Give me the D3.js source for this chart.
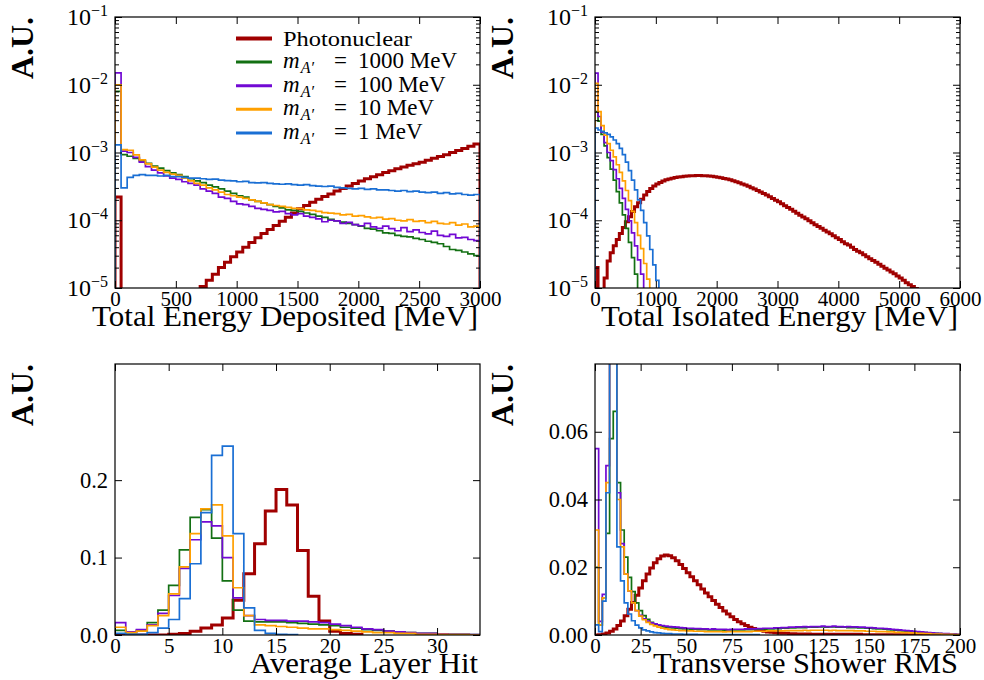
<!DOCTYPE html>
<html>
<head>
<meta charset="utf-8">
<script src="https://cdn.jsdelivr.net/npm/d3@7"></script>
<style>
  body { margin: 0; background: #fff; }
  text { font-family: "Liberation Serif", "Times New Roman", serif; fill: #000; }
</style>
</head>
<body>
<script>
// series: Photonuclear, m_A' = 1000, 100, 10, 1 MeV
var names = ["Photonuclear", "1000", "100", "10", "1"];
var colors = ["#a00000", "#137013", "#7209d4", "#ffa000", "#1a6fd4"];

// ---- Total Energy Deposited [MeV], 50 MeV bins, 0..3000
var edepBin = 50;
var edepPN = [2.2e-4, 0, 0, 0, 0, 0, 0, 0, 0, 0, 0, 0, 0, 0,
  1.05e-5, 1.3e-5, 1.6e-5, 2.0e-5, 2.4e-5, 2.9e-5,
  3.4e-5, 4.0e-5, 4.7e-5, 5.5e-5, 6.4e-5, 7.3e-5, 8.4e-5, 9.7e-5, 1.11e-4, 1.28e-4,
  1.48e-4, 1.65e-4, 1.84e-4, 2.05e-4, 2.25e-4, 2.45e-4, 2.7e-4, 2.95e-4, 3.2e-4, 3.5e-4,
  3.8e-4, 4.1e-4, 4.4e-4, 4.7e-4, 5.05e-4, 5.4e-4, 5.75e-4, 6.1e-4, 6.5e-4, 6.85e-4,
  7.2e-4, 7.7e-4, 8.2e-4, 8.7e-4, 9.3e-4, 1.0e-3, 1.07e-3, 1.15e-3, 1.24e-3, 1.34e-3];
var edep1000 = [8e-3, 9.3e-4, 8.8e-4, 8.2e-4, 7.5e-4, 6.9e-4, 6.3e-4, 5.9e-4, 5.4e-4, 5.0e-4,
  4.7e-4, 4.4e-4, 4.1e-4, 3.8e-4, 3.6e-4, 3.3e-4, 3.1e-4, 2.9e-4, 2.7e-4, 2.5e-4,
  2.3e-4, 2.2e-4, 2.0e-4, 1.9e-4, 1.8e-4, 1.7e-4, 1.6e-4, 1.52e-4, 1.42e-4, 1.4e-4,
  1.35e-4, 1.28e-4, 1.22e-4, 1.15e-4, 1.1e-4, 1.03e-4, 9.8e-5, 9.4e-5, 9.0e-5, 8.6e-5,
  8.2e-5, 7.6e-5, 7.4e-5, 7.0e-5, 6.5e-5, 6.4e-5, 6.0e-5, 5.8e-5, 5.7e-5, 5.4e-5,
  5.2e-5, 4.9e-5, 4.7e-5, 4.5e-5, 4.1e-5, 3.7e-5, 3.6e-5, 3.4e-5, 3.2e-5, 3.0e-5];
var edep100 = [1.5e-2, 1.05e-3, 1.0e-3, 8.5e-4, 7.2e-4, 6.2e-4, 5.5e-4, 5.0e-4, 4.5e-4, 4.2e-4,
  4.0e-4, 3.7e-4, 3.5e-4, 3.3e-4, 2.9e-4, 2.7e-4, 2.5e-4, 2.2e-4, 2.1e-4, 1.9e-4,
  1.75e-4, 1.7e-4, 1.6e-4, 1.5e-4, 1.45e-4, 1.4e-4, 1.33e-4, 1.35e-4, 1.25e-4, 1.2e-4,
  1.25e-4, 1.15e-4, 1.1e-4, 1.05e-4, 9.5e-5, 1.0e-4, 9.8e-5, 9.0e-5, 9.3e-5, 8.6e-5,
  8.3e-5, 9.0e-5, 8.0e-5, 7.6e-5, 8.2e-5, 7.5e-5, 7.0e-5, 7.8e-5, 6.8e-5, 7.2e-5,
  6.6e-5, 6.3e-5, 6.9e-5, 6.0e-5, 5.8e-5, 6.2e-5, 5.5e-5, 5.6e-5, 5.2e-5, 5.0e-5];
var edep10 = [1.0e-2, 1.1e-3, 1.08e-3, 9.2e-4, 7.8e-4, 6.8e-4, 6.1e-4, 5.5e-4, 5.1e-4, 4.8e-4,
  4.6e-4, 4.2e-4, 3.8e-4, 3.5e-4, 3.3e-4, 3.0e-4, 2.8e-4, 2.6e-4, 2.4e-4, 2.3e-4,
  2.2e-4, 2.1e-4, 2.0e-4, 1.9e-4, 1.8e-4, 1.7e-4, 1.65e-4, 1.6e-4, 1.55e-4, 1.5e-4,
  1.48e-4, 1.42e-4, 1.4e-4, 1.35e-4, 1.3e-4, 1.27e-4, 1.25e-4, 1.2e-4, 1.22e-4, 1.15e-4,
  1.17e-4, 1.12e-4, 1.08e-4, 1.1e-4, 1.04e-4, 1.06e-4, 1.0e-4, 9.8e-5, 1.02e-4, 9.6e-5,
  9.8e-5, 9.2e-5, 9.6e-5, 9.0e-5, 8.8e-5, 9.2e-5, 8.5e-5, 8.8e-5, 8.0e-5, 8.2e-5];
var edep1 = [1.3e-3, 3.0e-4, 4.3e-4, 4.6e-4, 4.7e-4, 4.6e-4, 4.6e-4, 4.5e-4, 4.6e-4, 4.4e-4,
  4.4e-4, 4.3e-4, 4.2e-4, 4.2e-4, 4.1e-4, 4.0e-4, 4.05e-4, 3.9e-4, 3.85e-4, 3.8e-4,
  3.7e-4, 3.75e-4, 3.6e-4, 3.55e-4, 3.6e-4, 3.5e-4, 3.45e-4, 3.4e-4, 3.45e-4, 3.35e-4,
  3.3e-4, 3.35e-4, 3.25e-4, 3.2e-4, 3.15e-4, 3.2e-4, 3.05e-4, 3.0e-4, 2.95e-4, 2.9e-4,
  2.95e-4, 2.85e-4, 2.9e-4, 2.8e-4, 2.8e-4, 2.75e-4, 2.7e-4, 2.75e-4, 2.65e-4, 2.7e-4,
  2.6e-4, 2.55e-4, 2.6e-4, 2.5e-4, 2.55e-4, 2.45e-4, 2.5e-4, 2.4e-4, 2.35e-4, 2.4e-4];

// ---- Total Isolated Energy [MeV], 50 MeV bins, 0..6000
var isoBin = 50;
var isoPN = [2.0e-5, 0, 0, 1.4e-5, 2.5e-5, 3.3e-5, 4.2e-5, 5.2e-5, 6.4e-5, 7.8e-5,
  9.5e-5, 1.13e-4, 1.35e-4, 1.58e-4, 1.82e-4, 2.05e-4, 2.35e-4, 2.65e-4, 2.95e-4, 3.2e-4,
  3.42e-4, 3.62e-4, 3.8e-4, 3.95e-4, 4.08e-4, 4.18e-4, 4.27e-4, 4.34e-4, 4.4e-4, 4.45e-4,
  4.5e-4, 4.52e-4, 4.55e-4, 4.56e-4, 4.56e-4, 4.55e-4, 4.52e-4, 4.5e-4, 4.45e-4, 4.4e-4,
  4.32e-4, 4.25e-4, 4.15e-4, 4.05e-4, 3.95e-4, 3.82e-4, 3.7e-4, 3.57e-4, 3.43e-4, 3.3e-4,
  3.17e-4, 3.03e-4, 2.9e-4, 2.75e-4, 2.62e-4, 2.48e-4, 2.35e-4, 2.22e-4, 2.1e-4, 1.98e-4,
  1.87e-4, 1.75e-4, 1.64e-4, 1.54e-4, 1.45e-4, 1.36e-4, 1.27e-4, 1.19e-4, 1.12e-4, 1.05e-4,
  9.8e-5, 9.2e-5, 8.6e-5, 8.1e-5, 7.6e-5, 7.1e-5, 6.7e-5, 6.3e-5, 5.9e-5, 5.5e-5,
  5.2e-5, 4.8e-5, 4.5e-5, 4.3e-5, 4.0e-5, 3.7e-5, 3.5e-5, 3.3e-5, 3.1e-5, 2.9e-5,
  2.7e-5, 2.55e-5, 2.4e-5, 2.25e-5, 2.1e-5, 1.95e-5, 1.85e-5, 1.72e-5, 1.62e-5, 1.5e-5,
  1.4e-5, 1.3e-5, 1.2e-5, 1.12e-5, 1.05e-5, 9.8e-6, 0];
var iso1000 = [4.0e-3, 2.9e-3, 1.85e-3, 1.25e-3, 8.4e-4, 5.7e-4, 3.9e-4, 2.65e-4, 1.8e-4, 1.2e-4,
  7.6e-5, 4.7e-5, 2.8e-5, 1.6e-5, 9e-6];
var iso100 = [1.48e-2, 3.4e-3, 2.0e-3, 1.4e-3, 1.0e-3, 7.6e-4, 5.6e-4, 4.1e-4, 2.95e-4, 2.1e-4,
  1.45e-4, 9.8e-5, 6.5e-5, 4.2e-5, 2.6e-5, 1.6e-5, 9e-6];
var iso10 = [1.05e-2, 4.0e-3, 2.5e-3, 1.8e-3, 1.35e-3, 1.08e-3, 8.6e-4, 6.6e-4, 5.1e-4, 3.8e-4,
  2.75e-4, 1.95e-4, 1.35e-4, 9.2e-5, 6.0e-5, 3.8e-5, 2.3e-5, 1.35e-5, 7e-6];
var iso1 = [2.3e-3, 2.15e-3, 2.05e-3, 1.95e-3, 1.85e-3, 1.7e-3, 1.53e-3, 1.35e-3, 1.15e-3, 9.3e-4,
  7.2e-4, 5.4e-4, 3.9e-4, 2.8e-4, 2.0e-4, 1.4e-4, 9.2e-5, 5.9e-5, 3.7e-5, 2.2e-5,
  1.3e-5, 7e-6];

// ---- Average Layer Hit, 1-layer bins, 0..34
var layerBin = 1;
var layerPN = [0, 0, 0, 0, 0, 0.001, 0.002, 0.005, 0.009, 0.013, 0.022, 0.045, 0.079, 0.118,
  0.16, 0.188, 0.168, 0.109, 0.05, 0.018, 0.005, 0.002, 0.001];
var layer1000 = [0.006, 0.003, 0.006, 0.016, 0.032, 0.064, 0.11, 0.152, 0.162, 0.125, 0.07, 0.032,
  0.018, 0.017, 0.017, 0.017, 0.016, 0.015, 0.014, 0.013, 0.012, 0.01, 0.009, 0.007, 0.006,
  0.005, 0.004, 0.003, 0.002, 0.002, 0.0015, 0.001, 0.001, 0.0005];
var layer100 = [0.016, 0.004, 0.007, 0.013, 0.028, 0.051, 0.086, 0.123, 0.146, 0.141, 0.1, 0.048,
  0.025, 0.02, 0.019, 0.019, 0.018, 0.018, 0.017, 0.016, 0.014, 0.012, 0.01, 0.008, 0.007,
  0.005, 0.004, 0.003, 0.002, 0.002, 0.0015, 0.001, 0.001, 0.0005];
var layer10 = [0.01, 0.003, 0.005, 0.012, 0.025, 0.053, 0.088, 0.131, 0.163, 0.168, 0.128, 0.061,
  0.025, 0.013, 0.012, 0.011, 0.01, 0.009, 0.008, 0.008, 0.007, 0.006, 0.005, 0.004, 0.003,
  0.003, 0.002, 0.002, 0.001, 0.001, 0.001, 0.0005, 0.0005, 0];
var layer1 = [0.002, 0.001, 0.001, 0.003, 0.009, 0.02, 0.047, 0.092, 0.158, 0.232, 0.244, 0.131,
  0.035, 0.006, 0.002, 0.001, 0.0005];

// ---- Transverse Shower RMS, 2-unit bins, 0..200
var rmsBin = 2;
var rmsPN = [0, 0.0001, 0.0003, 0.0006, 0.0011, 0.0018, 0.0028, 0.0041, 0.0057, 0.0076,
  0.0096, 0.0117, 0.0139, 0.0160, 0.0180, 0.0198, 0.0213, 0.0225, 0.0233, 0.0236,
  0.0234, 0.0228, 0.0219, 0.0208, 0.0196, 0.0184, 0.0172, 0.0160, 0.0148, 0.0136,
  0.0124, 0.0113, 0.0102, 0.0091, 0.0081, 0.0071, 0.0062, 0.0054, 0.0046, 0.0039,
  0.0033, 0.0028, 0.0023, 0.0019, 0.0016, 0.0013, 0.0011, 0.0009, 0.0008, 0.0007,
  0.0006, 0.0005, 0.0005, 0.0004, 0.0004, 0.0003, 0.0003, 0.0003, 0.0003, 0.0002,
  0.0002, 0.0002, 0.0002, 0.0002, 0.0002, 0.0002, 0.0002, 0.0002, 0.0002, 0.0002,
  0.0002, 0.0002, 0.0002, 0.0001, 0.0001, 0.0001, 0.0001, 0.0001, 0.0001, 0.0001,
  0.0001, 0.0001, 0.0001, 0.0001, 0.0001, 0.0001, 0.0001, 0.0001, 0.0001, 0.0001,
  0.0001, 0.0001, 0.0001, 0.0001, 0.0001];
var rms1000 = [0.02, 0.003, 0.011, 0.03, 0.058, 0.066, 0.045, 0.031, 0.023, 0.017,
  0.0128, 0.0095, 0.0072, 0.0057, 0.0046, 0.0037, 0.0032, 0.0028, 0.0025, 0.0023,
  0.0022, 0.0021, 0.002, 0.0019, 0.0018, 0.0018, 0.0017, 0.0017, 0.0016, 0.0016,
  0.0016, 0.0015, 0.0015, 0.0015, 0.0015, 0.0014, 0.0015, 0.0015, 0.0015, 0.0015,
  0.0015, 0.0016, 0.0016, 0.0016, 0.0017, 0.0017, 0.0017, 0.0018, 0.0018, 0.0019,
  0.0019, 0.002, 0.002, 0.0021, 0.0021, 0.0022, 0.0022, 0.0022, 0.0023, 0.0023,
  0.0023, 0.0024, 0.0024, 0.0023, 0.0024, 0.0024, 0.0023, 0.0023, 0.0023, 0.0022,
  0.0022, 0.0022, 0.0021, 0.0021, 0.002, 0.002, 0.0019, 0.0018, 0.0018, 0.0017,
  0.0016, 0.0015, 0.0014, 0.0013, 0.0012, 0.0011, 0.001, 0.0009, 0.0008, 0.0008,
  0.0007, 0.0006, 0.0005, 0.0005, 0.0004, 0.0003, 0.0003, 0.0002, 0.0002, 0.0001];
var rms100 = [0.055, 0.004, 0.012, 0.05, 0.09, 0.088, 0.042, 0.027, 0.018, 0.013,
  0.0095, 0.0072, 0.0058, 0.0048, 0.0041, 0.0036, 0.0033, 0.003, 0.0028, 0.0026,
  0.0025, 0.0024, 0.0023, 0.0022, 0.0021, 0.002, 0.002, 0.0019, 0.0019, 0.0018,
  0.0018, 0.0017, 0.0018, 0.0017, 0.0017, 0.0017, 0.0016, 0.0017, 0.0017, 0.0017,
  0.0017, 0.0018, 0.0018, 0.0018, 0.0019, 0.0019, 0.002, 0.002, 0.002, 0.0021,
  0.0021, 0.0022, 0.0022, 0.0023, 0.0023, 0.0024, 0.0024, 0.0025, 0.0024, 0.0025,
  0.0025, 0.0025, 0.0026, 0.0025, 0.0025, 0.0026, 0.0025, 0.0025, 0.0024, 0.0025,
  0.0024, 0.0024, 0.0023, 0.0023, 0.0022, 0.0022, 0.0021, 0.002, 0.002, 0.0019,
  0.0018, 0.0017, 0.0016, 0.0015, 0.0014, 0.0013, 0.0012, 0.0011, 0.001, 0.0009,
  0.0008, 0.0007, 0.0006, 0.0005, 0.0005, 0.0004, 0.0004, 0.0003, 0.0003, 0.0002];
var rms10 = [0.031, 0.003, 0.011, 0.045, 0.09, 0.085, 0.04, 0.026, 0.018, 0.013,
  0.0095, 0.0072, 0.0056, 0.0045, 0.0037, 0.0031, 0.0027, 0.0023, 0.002, 0.0018,
  0.0016, 0.0015, 0.0014, 0.0013, 0.0013, 0.0012, 0.0012, 0.0011, 0.0011, 0.0011,
  0.001, 0.001, 0.001, 0.001, 0.001, 0.0009, 0.001, 0.001, 0.001, 0.001,
  0.001, 0.001, 0.001, 0.0011, 0.0011, 0.0011, 0.0011, 0.0012, 0.0012, 0.0012,
  0.0012, 0.0012, 0.0013, 0.0013, 0.0013, 0.0013, 0.0013, 0.0014, 0.0013, 0.0014,
  0.0014, 0.0014, 0.0014, 0.0014, 0.0013, 0.0014, 0.0013, 0.0013, 0.0013, 0.0013,
  0.0013, 0.0012, 0.0012, 0.0012, 0.0011, 0.0011, 0.0011, 0.001, 0.001, 0.001,
  0.0009, 0.0009, 0.0008, 0.0008, 0.0007, 0.0007, 0.0006, 0.0006, 0.0005, 0.0005,
  0.0004, 0.0004, 0.0003, 0.0003, 0.0003, 0.0002, 0.0002, 0.0002, 0.0001, 0.0001];
var rms1 = [0.003, 0.001, 0.01, 0.042, 0.1, 0.092, 0.026, 0.016, 0.0095, 0.0062,
  0.0042, 0.0029, 0.0021, 0.0015, 0.0012, 0.0009, 0.0007, 0.0006, 0.0005, 0.0004,
  0.0004, 0.0003, 0.0003, 0.0003, 0.0002, 0.0002, 0.0002, 0.0002, 0.0001, 0.0001,
  0.0001, 0.0001, 0.0001, 0.0001, 0.0001, 0.0001, 0.0001, 0.0001, 0.0001, 0.0001,
  0.0001, 0.0001, 0.0001, 0.0001, 0.0001];

var svg = d3.select("body").append("svg")
    .attr("width", 984)
    .attr("height", 680);
svg.append("rect").attr("width", 984).attr("height", 680).attr("fill", "#fff");

function tidy(sel) {
  sel.select(".domain").remove();
  sel.selectAll(".tick line").attr("stroke", "#000").attr("stroke-width", 1);
  sel.attr("font-family", null).attr("font-size", 21);
}

function drawPanel(p) {
  var x = d3.scaleLinear().domain(p.xDomain).range([p.left, p.right]);
  var y = (p.log ? d3.scaleLog() : d3.scaleLinear()).domain(p.yDomain).range([p.bottom, p.top]);
  var floor = p.log ? p.yDomain[0] / 100 : 0;

  svg.append("clipPath").attr("id", "clip-" + p.id)
    .append("rect")
      .attr("x", p.left).attr("y", p.top)
      .attr("width", p.right - p.left).attr("height", p.bottom - p.top);

  var line = d3.line()
      .x(function(d) { return x(d[0]); })
      .y(function(d) { return y(Math.max(d[1], floor)); });

  var g = svg.append("g").attr("clip-path", "url(#clip-" + p.id + ")");
  p.series.forEach(function(vals, k) {
    var pts = [[0, floor]];
    vals.forEach(function(v, i) { pts.push([i * p.bin, v], [(i + 1) * p.bin, v]); });
    pts.push([vals.length * p.bin, floor]);
    g.append("path")
      .attr("d", line(pts))
      .attr("fill", "none")
      .attr("stroke", colors[k])
      .attr("stroke-width", k == 0 ? 3 : 1.7);
  });

  // ticks, all pointing inwards
  svg.append("g").attr("transform", "translate(0," + p.bottom + ")")
    .call(d3.axisBottom(x).tickValues(p.xTicks).tickSize(-7).tickPadding(3).tickFormat(d3.format("d")))
    .call(tidy);
  svg.append("g").attr("transform", "translate(0," + p.top + ")")
    .call(d3.axisTop(x).tickValues(p.xTicks).tickSize(-7).tickFormat(""))
    .call(tidy);

  var leftAxis = d3.axisLeft(y).tickValues(p.yTicks).tickSize(-7).tickPadding(7);
  leftAxis.tickFormat(p.log ? function() { return "10"; } : d3.format(p.yFmt));
  var gl = svg.append("g").attr("transform", "translate(" + p.left + ",0)").call(leftAxis).call(tidy);
  gl.attr("font-size", 22.5);
  svg.append("g").attr("transform", "translate(" + p.right + ",0)")
    .call(d3.axisRight(y).tickValues(p.yTicks).tickSize(-7).tickFormat(""))
    .call(tidy);

  if (p.log) {
    gl.selectAll(".tick text")
      .attr("font-size", 24)
      .append("tspan")
        .attr("dy", -9)
        .attr("font-size", 16)
        .text(function(d) { return "\u2212" + Math.round(-Math.log10(d)); });
    var minor = y.ticks().filter(function(d) { return p.yTicks.indexOf(d) < 0; });
    svg.append("g").attr("transform", "translate(" + p.left + ",0)")
      .call(d3.axisLeft(y).tickValues(minor).tickSize(-4).tickFormat(""))
      .call(tidy);
    svg.append("g").attr("transform", "translate(" + p.right + ",0)")
      .call(d3.axisRight(y).tickValues(minor).tickSize(-4).tickFormat(""))
      .call(tidy);
  }

  svg.append("rect")
    .attr("x", p.left).attr("y", p.top)
    .attr("width", p.right - p.left).attr("height", p.bottom - p.top)
    .attr("fill", "none").attr("stroke", "#000").attr("stroke-width", 1.2);

  svg.append("text")
    .attr("transform", "translate(" + (p.left - 82) + "," + p.top + ") rotate(-90)")
    .attr("text-anchor", "end")
    .attr("font-weight", "bold")
    .attr("font-size", 31)
    .attr("textLength", 62)
    .attr("lengthAdjust", "spacingAndGlyphs")
    .text("A.U.");

  svg.append("text")
    .attr("x", p.right - 2)
    .attr("y", p.bottom + 38)
    .attr("text-anchor", "end")
    .attr("font-size", 30)
    .attr("textLength", p.titleW)
    .attr("lengthAdjust", "spacingAndGlyphs")
    .text(p.title);

  return {x: x, y: y};
}

drawPanel({
  id: "edep", left: 115, right: 480, top: 17, bottom: 288,
  xDomain: [0, 3000], yDomain: [1e-5, 1e-1], log: true, bin: edepBin,
  xTicks: [0, 500, 1000, 1500, 2000, 2500, 3000], yTicks: [1e-5, 1e-4, 1e-3, 1e-2, 1e-1],
  series: [edepPN, edep1000, edep100, edep10, edep1],
  title: "Total Energy Deposited [MeV]", titleW: 386
});
drawPanel({
  id: "iso", left: 595, right: 960, top: 17, bottom: 288,
  xDomain: [0, 6000], yDomain: [1e-5, 1e-1], log: true, bin: isoBin,
  xTicks: [0, 1000, 2000, 3000, 4000, 5000, 6000], yTicks: [1e-5, 1e-4, 1e-3, 1e-2, 1e-1],
  series: [isoPN, iso1000, iso100, iso10, iso1],
  title: "Total Isolated Energy [MeV]", titleW: 357
});
drawPanel({
  id: "layer", left: 115, right: 480, top: 364, bottom: 635,
  xDomain: [0, 34], yDomain: [0, 0.35], log: false, bin: layerBin, yFmt: ".1f",
  xTicks: [0, 5, 10, 15, 20, 25, 30], yTicks: [0, 0.1, 0.2],
  series: [layerPN, layer1000, layer100, layer10, layer1],
  title: "Average Layer Hit", titleW: 228
});
drawPanel({
  id: "rms", left: 595, right: 960, top: 364, bottom: 635,
  xDomain: [0, 200], yDomain: [0, 0.08], log: false, bin: rmsBin, yFmt: ".2f",
  xTicks: [0, 25, 50, 75, 100, 125, 150, 175, 200], yTicks: [0, 0.02, 0.04, 0.06],
  series: [rmsPN, rms1000, rms100, rms10, rms1],
  title: "Transverse Shower RMS", titleW: 305
});

// legend (top-left panel)
var legend = svg.append("g");
names.forEach(function(n, k) {
  var ly = 38.5 + k * 23.6;
  legend.append("line")
    .attr("x1", 236).attr("x2", 272).attr("y1", ly).attr("y2", ly)
    .attr("stroke", colors[k]).attr("stroke-width", k == 0 ? 4 : 3);
  if (k == 0) {
    legend.append("text").attr("x", 283).attr("y", ly + 7).attr("font-size", 22)
      .attr("textLength", 129).attr("lengthAdjust", "spacingAndGlyphs")
      .text(n);
    return;
  }
  var t = legend.append("text").attr("x", 283).attr("y", ly + 6).attr("font-size", 23);
  t.append("tspan").attr("font-style", "italic").text("m");
  t.append("tspan").attr("font-style", "italic").attr("font-size", 16).attr("dx", 1).attr("dy", 5).text("A\u2032");
  legend.append("text").attr("x", 334).attr("y", ly + 6).attr("font-size", 23).text("=");
  legend.append("text").attr("x", 358).attr("y", ly + 6).attr("font-size", 23).text(n + " MeV");
});
</script>
</body>
</html>
